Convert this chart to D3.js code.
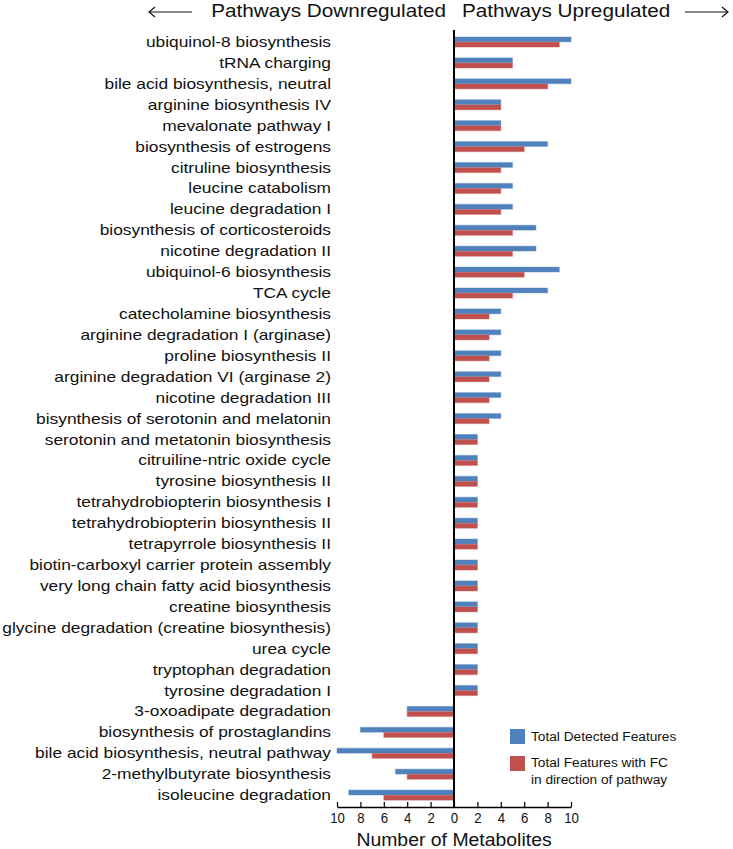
<!DOCTYPE html>
<html>
<head>
<meta charset="utf-8">
<script src="https://cdn.jsdelivr.net/npm/d3@7"></script>
<style>
  html, body { margin: 0; padding: 0; background: #fff; }
  svg { display: block; font-family: "Liberation Sans", Arial, Helvetica, sans-serif; }
</style>
</head>
<body>
<svg id="chart" width="733" height="849"></svg>
<script>
// ---- DATA ----
const categories = [
  "ubiquinol-8 biosynthesis",
  "tRNA charging",
  "bile acid biosynthesis, neutral",
  "arginine biosynthesis IV",
  "mevalonate pathway I",
  "biosynthesis of estrogens",
  "citruline biosynthesis",
  "leucine catabolism",
  "leucine degradation I",
  "biosynthesis of corticosteroids",
  "nicotine degradation II",
  "ubiquinol-6 biosynthesis",
  "TCA cycle",
  "catecholamine biosynthesis",
  "arginine degradation I (arginase)",
  "proline biosynthesis II",
  "arginine degradation VI (arginase 2)",
  "nicotine degradation III",
  "bisynthesis of serotonin and melatonin",
  "serotonin and metatonin biosynthesis",
  "citruiline-ntric oxide cycle",
  "tyrosine biosynthesis II",
  "tetrahydrobiopterin biosynthesis I",
  "tetrahydrobiopterin biosynthesis II",
  "tetrapyrrole biosynthesis II",
  "biotin-carboxyl carrier protein assembly",
  "very long chain fatty acid biosynthesis",
  "creatine biosynthesis",
  "glycine degradation (creatine biosynthesis)",
  "urea cycle",
  "tryptophan degradation",
  "tyrosine degradation I",
  "3-oxoadipate degradation",
  "biosynthesis of prostaglandins",
  "bile acid biosynthesis, neutral pathway",
  "2-methylbutyrate biosynthesis",
  "isoleucine degradation"
];
// signed: positive = upregulated, negative = downregulated
const totalDetected = [10,5,10,4,4,8,5,5,5,7,7,9,8,4,4,4,4,4,4,2,2,2,2,2,2,2,2,2,2,2,2,2,-4,-8,-10,-5,-9];
const totalWithFC   = [9,5,8,4,4,6,4,4,4,5,5,6,5,3,3,3,3,3,3,2,2,2,2,2,2,2,2,2,2,2,2,2,-4,-6,-7,-4,-6];
const seriesNames = ["Total Detected Features", "Total Features with FC in direction of pathway"];
const seriesColors = ["#4F81BD", "#C0504D"];
const tickValues = [-10,-8,-6,-4,-2,0,2,4,6,8,10];

// ---- LAYOUT ----
const svg = d3.select("#chart");
const x = d3.scaleLinear().domain([-10, 10]).range([337, 571]);
const rowStep = 20.92;
const y = d3.scaleBand().domain(categories)
  .range([42 - rowStep/2, 42 + rowStep*(categories.length - 0.5)])
  .paddingInner(0.52).paddingOuter(0.26);
const ySub = d3.scaleBand().domain([0, 1]).range([0, y.bandwidth()]).paddingInner(0.06);
const axisY = 807;

// bars
const rows = categories.map((c, i) => ({ c, vals: [totalDetected[i], totalWithFC[i]] }));
const g = svg.append("g");
rows.forEach(r => {
  r.vals.forEach((v, k) => {
    g.append("rect")
      .attr("x", x(Math.min(0, v)))
      .attr("width", Math.abs(x(v) - x(0)))
      .attr("y", y(r.c) + ySub(k))
      .attr("height", ySub.bandwidth())
      .attr("fill", seriesColors[k])
      .attr("stroke", seriesColors[k])
      .attr("stroke-opacity", 0.35)
      .attr("stroke-width", 1.2);
  });
});

// category labels (horizontally stretched like the reference)
const labelScale = 1.24;
svg.append("g").selectAll("text").data(categories).join("text")
  .attr("transform", d => `translate(331,${y(d) + y.bandwidth()/2}) scale(${labelScale},1)`)
  .attr("text-anchor", "end")
  .attr("dy", "0.36em")
  .attr("font-size", 14)
  .attr("fill", "#111")
  .text(d => d);

// vertical zero line
svg.append("line")
  .attr("x1", x(0)).attr("x2", x(0))
  .attr("y1", 30).attr("y2", axisY)
  .attr("stroke", "#000").attr("stroke-width", 2);

// bottom axis
const axis = d3.axisBottom(x).tickValues(tickValues).tickFormat(d => Math.abs(d))
  .tickSizeInner(-5).tickSizeOuter(0).tickPadding(16);
const ax = svg.append("g").attr("transform", `translate(0,${axisY})`).call(axis);
ax.select(".domain").attr("stroke", "#000").attr("stroke-width", 1.3);
ax.selectAll(".tick line").attr("stroke", "#000").attr("stroke-width", 1.2);
ax.selectAll(".tick text")
  .attr("font-size", 15)
  .attr("font-family", "Liberation Sans, Arial, sans-serif")
  .attr("fill", "#111")
  .attr("y", 0).attr("dy", 0)
  .attr("transform", "translate(0,16) scale(0.88,1)");

// axis title
svg.append("text")
  .attr("transform", `translate(${x(0)},846) scale(1.05,1)`)
  .attr("text-anchor", "middle")
  .attr("font-size", 18.5)
  .attr("fill", "#111")
  .text("Number of Metabolites");

// top titles
svg.append("text")
  .attr("transform", `translate(446,17) scale(1.12,1)`)
  .attr("text-anchor", "end").attr("font-size", 18.5).attr("fill", "#111")
  .text("Pathways Downregulated");
svg.append("text")
  .attr("transform", `translate(462,17) scale(1.12,1)`)
  .attr("text-anchor", "start").attr("font-size", 18.5).attr("fill", "#111")
  .text("Pathways Upregulated");

// arrows
function arrow(x1, x2, yy) {
  const dir = Math.sign(x2 - x1);
  svg.append("line").attr("x1", x1).attr("x2", x2).attr("y1", yy).attr("y2", yy)
    .attr("stroke", "#111").attr("stroke-width", 1.2);
  svg.append("path")
    .attr("d", `M${x2 - dir*6},${yy - 5} L${x2},${yy} L${x2 - dir*6},${yy + 5}`)
    .attr("fill", "none").attr("stroke", "#111").attr("stroke-width", 1.2);
}
arrow(192, 149, 12);
arrow(685, 728, 12);

// legend
const lg = svg.append("g").attr("transform", "translate(510,729)");
lg.append("rect").attr("x", 0).attr("y", 0).attr("width", 15).attr("height", 15).attr("fill", seriesColors[0]);
lg.append("text").attr("x", 21).attr("y", 12).attr("font-size", 13.7).attr("fill", "#111").text(seriesNames[0]);
lg.append("rect").attr("x", 0).attr("y", 27).attr("width", 15).attr("height", 15).attr("fill", seriesColors[1]);
const t2 = lg.append("text").attr("x", 21).attr("y", 38).attr("font-size", 13.7).attr("fill", "#111");
t2.append("tspan").attr("x", 21).text("Total Features with FC");
t2.append("tspan").attr("x", 21).attr("dy", 16.5).text("in direction of pathway");
</script>
</body>
</html>
